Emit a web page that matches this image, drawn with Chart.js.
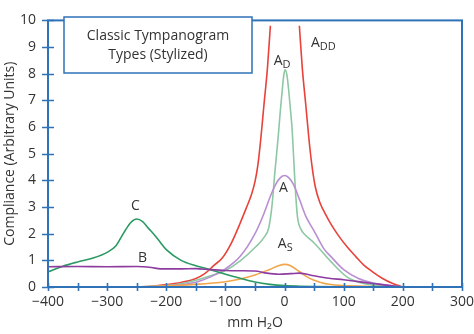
<!DOCTYPE html>
<html>
<head>
<meta charset="utf-8">
<title>Classic Tympanogram Types</title>
<script src="https://cdn.jsdelivr.net/npm/chart.js"></script>
<style>
  body { margin: 0; background: #fff; }
  canvas { display: block; }
</style>
</head>
<body>
<canvas id="tymp" width="474" height="334"></canvas>
<script>
// values (x = mm H2O, y = compliance)
const xTicks = [-400, -300, -200, -100, 0, 100, 200, 300];
const xTickMarks = [-400, -350, -300, -250, -200, -150, -100, -50, 0, 50, 100, 150, 200, 250, 300];
const yTicks = [0, 1, 2, 3, 4, 5, 6, 7, 8, 9, 10];

// A_DD - runs off the top, gap at the peak
const addX = [-250, -225, -200, -175, -150, -135, -120, -105, -90, -75, -65, -57, -50, -45, -40, -35, -29, -24, 0, 25, 30, 36, 41, 46, 52, 60, 70, 80, 92, 106, 120, 134, 150, 165, 182, 200];
const addY = [0, 0.03, 0.09, 0.17, 0.32, 0.5, 0.8, 1.1, 1.65, 2.4, 2.95, 3.4, 3.95, 4.6, 5.6, 6.8, 8.2, 9.8, null, 9.8, 8.2, 6.8, 5.6, 4.6, 3.75, 3.15, 2.7, 2.3, 1.9, 1.5, 1.15, 0.82, 0.55, 0.33, 0.14, 0];

// A_D
const adX = [-250, -200, -175, -150, -125, -100, -75, -50, -35, -27, -22, -19, -17, -13, -10, -7, -4, -1, 1, 4, 7, 10, 13, 15, 17, 19, 22, 28, 35, 50, 78, 106, 130, 151, 175, 200];
const adY = [0, 0.05, 0.12, 0.25, 0.42, 0.62, 0.98, 1.48, 1.85, 2.2, 2.9, 3.6, 4.16, 5.1, 5.84, 6.65, 7.37, 8.0, 8.15, 7.95, 7.37, 6.65, 5.84, 5.0, 4.16, 3.4, 2.6, 2.15, 1.95, 1.65, 0.96, 0.37, 0.15, 0.07, 0.02, 0];

// A
const aX = [-250, -200, -150, -125, -100, -75, -50, -35, -25, -15, -7, 0, 7, 15, 25, 36, 50, 66, 78, 100, 125, 150, 175, 200];
const aY = [0, 0.04, 0.18, 0.38, 0.68, 1.15, 2.0, 2.75, 3.35, 3.85, 4.1, 4.18, 4.1, 3.85, 3.3, 2.65, 2.1, 1.45, 1.15, 0.65, 0.32, 0.15, 0.06, 0];

// A_S
const asX = [-262, -225, -200, -150, -100, -75, -50, -25, -10, 0, 10, 25, 40, 50, 61, 75, 100, 150, 200];
const asY = [0, 0.02, 0.05, 0.1, 0.2, 0.3, 0.45, 0.66, 0.8, 0.85, 0.8, 0.58, 0.35, 0.25, 0.17, 0.1, 0.05, 0.02, 0];

// B
const bX = [-400, -350, -300, -250, -225, -210, -175, -150, -125, -100, -75, -50, -30, -10, 10, 25, 50, 75, 100, 125, 150, 175, 200];
const bY = [0.76, 0.77, 0.76, 0.77, 0.73, 0.68, 0.68, 0.69, 0.65, 0.62, 0.61, 0.6, 0.52, 0.48, 0.5, 0.52, 0.42, 0.33, 0.27, 0.2, 0.13, 0.06, 0];

// C
const cX = [-400, -375, -350, -325, -300, -285, -278, -270, -260, -250, -240, -230, -220, -210, -200, -175, -150, -125, -100, -75, -50, -25, 0, 25, 50, 100, 150, 200];
const cY = [0.57, 0.78, 0.94, 1.08, 1.3, 1.55, 1.8, 2.1, 2.42, 2.55, 2.45, 2.2, 1.95, 1.67, 1.4, 1.0, 0.8, 0.65, 0.48, 0.33, 0.19, 0.1, 0.05, 0.03, 0.02, 0.01, 0.01, 0];

// curve labels (main letter, subscript, data position)
const curveLabels = [
  { text: 'C', sub: '', x: -252, y: 3.02 },
  { text: 'B', sub: '', x: -240, y: 1.1 },
  { text: 'A', sub: 'D', x: -11, y: 8.49 },
  { text: 'A', sub: 'DD', x: 52, y: 9.15 },
  { text: 'A', sub: '', x: -2, y: 3.72 },
  { text: 'A', sub: 'S', x: -4, y: 1.6 }
];

const FONT = "'Open Sans', sans-serif";
const BLUE = '#2f72b8';
const INK = '#333333';

function pts(xs, ys) {
  return xs.map((x, i) => ({ x: x, y: ys[i] }));
}

function curve(label, xs, ys, color) {
  return {
    label: label,
    data: pts(xs, ys),
    borderColor: color,
    borderWidth: 1.6,
    pointRadius: 0,
    cubicInterpolationMode: 'monotone',
    spanGaps: false,
    fill: false
  };
}

// frame, crossing tick marks, title box and curve labels
const decor = {
  id: 'decor',
  afterDatasetsDraw(chart) {
    const ctx = chart.ctx;
    const area = chart.chartArea;
    const xs = chart.scales.x, ys = chart.scales.y;
    ctx.save();
    ctx.strokeStyle = BLUE;
    ctx.lineWidth = 2;
    ctx.strokeRect(area.left, area.top, area.right - area.left, area.bottom - area.top);

    ctx.lineWidth = 1.6;
    ctx.beginPath();
    xTickMarks.forEach(v => {
      const px = Math.round(xs.getPixelForValue(v)) + 0.5;
      ctx.moveTo(px, area.bottom - 4);
      ctx.lineTo(px, area.bottom + 4);
    });
    yTicks.forEach(v => {
      const py = Math.round(ys.getPixelForValue(v)) + 0.5;
      ctx.moveTo(area.left - 6, py);
      ctx.lineTo(area.left + 6, py);
    });
    ctx.stroke();

    // title box
    ctx.fillStyle = '#fff';
    ctx.fillRect(64, 17, 188, 56);
    ctx.lineWidth = 1.5;
    ctx.strokeRect(64, 17, 188, 56);
    ctx.fillStyle = INK;
    ctx.font = '14px ' + FONT;
    ctx.textAlign = 'center';
    ctx.textBaseline = 'middle';
    ctx.fillText('Classic Tympanogram', 158, 36);
    ctx.fillText('Types (Stylized)', 158, 55);

    curveLabels.forEach(l => {
      const px = xs.getPixelForValue(l.x);
      const py = ys.getPixelForValue(l.y);
      ctx.font = '14px ' + FONT;
      ctx.textAlign = 'center';
      ctx.fillText(l.text, px, py);
      if (l.sub) {
        const w = ctx.measureText(l.text).width;
        ctx.font = '11px ' + FONT;
        ctx.textAlign = 'left';
        ctx.fillText(l.sub, px + w / 2, py + 4);
      }
    });
    ctx.restore();
  }
};

new Chart(document.getElementById('tymp'), {
  type: 'line',
  data: {
    datasets: [
      curve('B', bX, bY, '#8e3ca0'),
      curve('C', cX, cY, '#2a9a62'),
      curve('A_S', asX, asY, '#f2a54a'),
      curve('A', aX, aY, '#b98fd2'),
      curve('A_D', adX, adY, '#8dc8a4'),
      curve('A_DD', addX, addY, '#e8423a')
    ]
  },
  options: {
    responsive: false,
    devicePixelRatio: 1,
    animation: false,
    layout: { padding: { top: 6, right: 12, left: 0, bottom: 0 } },
    plugins: { legend: { display: false }, tooltip: { enabled: false } },
    scales: {
      x: {
        type: 'linear',
        min: -400,
        max: 300,
        afterBuildTicks: s => { s.ticks = xTicks.map(v => ({ value: v })); },
        afterFit: s => { s.height = 47; s.paddingLeft = 0; s.paddingRight = 0; },
        grid: { display: false, drawTicks: false },
        border: { display: false },
        ticks: {
          padding: 7,
          color: INK,
          font: { family: FONT, size: 14 },
          maxRotation: 0,
          callback: v => String(v).replace('-', '\u2212')
        },
        title: {
          display: true,
          text: 'mm H\u2082O',
          color: INK,
          font: { family: FONT, size: 14 },
          padding: { top: 0, bottom: 3 }
        }
      },
      y: {
        min: 0,
        max: 10,
        afterBuildTicks: s => { s.ticks = yTicks.map(v => ({ value: v })); },
        afterFit: s => { s.width = 48; },
        grid: { display: false, drawTicks: false },
        border: { display: false },
        ticks: {
          padding: 12,
          color: INK,
          font: { family: FONT, size: 14 }
        },
        title: {
          display: true,
          text: 'Compliance (Arbitrary Units)',
          color: INK,
          font: { family: FONT, size: 14 },
          padding: { top: 2, bottom: 0 }
        }
      }
    }
  },
  plugins: [decor]
});
</script>
</body>
</html>
